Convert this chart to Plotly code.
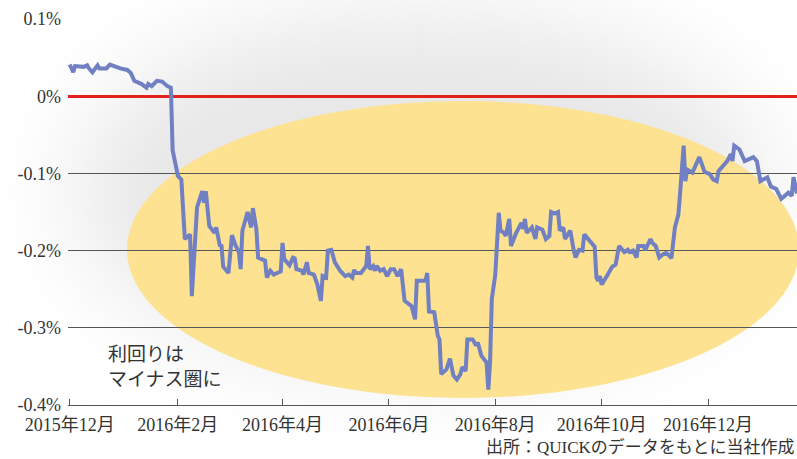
import base64
import plotly.graph_objects as go

# ---------------- data ----------------
dates = [
    "2015-12-01", "2015-12-03", "2015-12-04", "2015-12-09", "2015-12-11", "2015-12-12", "2015-12-14",
    "2015-12-17", "2015-12-18", "2015-12-22", "2015-12-24", "2015-12-27", "2015-12-30",
    "2016-01-03", "2016-01-05", "2016-01-07", "2016-01-11", "2016-01-14", "2016-01-15", "2016-01-17",
    "2016-01-20", "2016-01-23", "2016-01-26", "2016-01-28", "2016-01-29",
    "2016-02-01", "2016-02-02", "2016-02-03", "2016-02-05", "2016-02-08", "2016-02-09", "2016-02-12",
    "2016-02-15", "2016-02-16", "2016-02-17", "2016-02-19", "2016-02-22", "2016-02-23", "2016-02-25",
    "2016-02-26", "2016-02-27",
    "2016-03-01", "2016-03-03", "2016-03-05", "2016-03-07", "2016-03-08", "2016-03-09", "2016-03-12",
    "2016-03-14", "2016-03-15", "2016-03-17", "2016-03-18", "2016-03-22", "2016-03-23", "2016-03-25",
    "2016-03-27", "2016-03-29", "2016-03-31",
    "2016-04-01", "2016-04-02", "2016-04-05", "2016-04-07", "2016-04-08", "2016-04-09", "2016-04-12",
    "2016-04-13", "2016-04-15", "2016-04-16", "2016-04-19", "2016-04-21", "2016-04-23", "2016-04-24",
    "2016-04-26", "2016-04-27", "2016-04-29",
    "2016-05-01", "2016-05-04", "2016-05-07", "2016-05-09", "2016-05-11", "2016-05-12", "2016-05-13",
    "2016-05-16", "2016-05-19", "2016-05-20", "2016-05-21", "2016-05-23", "2016-05-24", "2016-05-25",
    "2016-05-27", "2016-05-29", "2016-05-31",
    "2016-06-02", "2016-06-04", "2016-06-06", "2016-06-08", "2016-06-10", "2016-06-14", "2016-06-16",
    "2016-06-17", "2016-06-22", "2016-06-23", "2016-06-24", "2016-06-27", "2016-06-29", "2016-06-30",
    "2016-07-01", "2016-07-04", "2016-07-06", "2016-07-08", "2016-07-10", "2016-07-12", "2016-07-13",
    "2016-07-15", "2016-07-16", "2016-07-19", "2016-07-21", "2016-07-22", "2016-07-24", "2016-07-27",
    "2016-07-28", "2016-07-29", "2016-07-30",
    "2016-08-01", "2016-08-03", "2016-08-04", "2016-08-06", "2016-08-07", "2016-08-09", "2016-08-10",
    "2016-08-13", "2016-08-16", "2016-08-17", "2016-08-18", "2016-08-19", "2016-08-22", "2016-08-24",
    "2016-08-25", "2016-08-28", "2016-08-30",
    "2016-09-01", "2016-09-02", "2016-09-04", "2016-09-06", "2016-09-07", "2016-09-09", "2016-09-10",
    "2016-09-13", "2016-09-15", "2016-09-16", "2016-09-18", "2016-09-20", "2016-09-21", "2016-09-24",
    "2016-09-27", "2016-09-28", "2016-09-29", "2016-09-30",
    "2016-10-01", "2016-10-04", "2016-10-06", "2016-10-07", "2016-10-09", "2016-10-11", "2016-10-14",
    "2016-10-16", "2016-10-17", "2016-10-19", "2016-10-21", "2016-10-22", "2016-10-25", "2016-10-26",
    "2016-10-29", "2016-10-30",
    "2016-11-01", "2016-11-03", "2016-11-05", "2016-11-07", "2016-11-09", "2016-11-10", "2016-11-12",
    "2016-11-14", "2016-11-15", "2016-11-17", "2016-11-18", "2016-11-19", "2016-11-22", "2016-11-26",
    "2016-11-29",
    "2016-12-02", "2016-12-04", "2016-12-06", "2016-12-07", "2016-12-10", "2016-12-12", "2016-12-14",
    "2016-12-15", "2016-12-16", "2016-12-19", "2016-12-22", "2016-12-27", "2016-12-29", "2016-12-31",
    "2017-01-04", "2017-01-06", "2017-01-09", "2017-01-10", "2017-01-12", "2017-01-16", "2017-01-18",
    "2017-01-19", "2017-01-21",
]

yields = [
    # 2015-12
    0.041, 0.031, 0.039, 0.038, 0.040, 0.036, 0.031, 0.040, 0.036, 0.036, 0.041, 0.038, 0.036,
    # 2016-01
    0.034, 0.030, 0.020, 0.016, 0.011, 0.016, 0.013, 0.020, 0.019, 0.013, 0.011, -0.070,
    # 2016-02
    -0.103, -0.105, -0.108, -0.185, -0.179, -0.259, -0.144, -0.123, -0.138, -0.123, -0.168, -0.177,
    -0.170, -0.193, -0.194, -0.221,
    # 2016-03
    -0.229, -0.180, -0.193, -0.202, -0.224, -0.174, -0.150, -0.170, -0.145, -0.172, -0.209, -0.213,
    -0.235, -0.226, -0.231, -0.229, -0.227,
    # 2016-04
    -0.190, -0.211, -0.219, -0.209, -0.210, -0.224, -0.226, -0.231, -0.215, -0.229, -0.231, -0.244,
    -0.265, -0.233, -0.235, -0.200, -0.199,
    # 2016-05
    -0.215, -0.226, -0.233, -0.231, -0.235, -0.225, -0.229, -0.229, -0.220, -0.194, -0.224, -0.220,
    -0.226, -0.220, -0.226, -0.224, -0.233,
    # 2016-06
    -0.224, -0.224, -0.233, -0.224, -0.265, -0.272, -0.289, -0.239, -0.239, -0.229, -0.279, -0.280,
    -0.310, -0.315,
    # 2016-07
    -0.360, -0.354, -0.340, -0.362, -0.367, -0.360, -0.351, -0.356, -0.315, -0.315, -0.323, -0.319,
    -0.336, -0.345, -0.380, -0.345, -0.263,
    # 2016-08
    -0.231, -0.151, -0.174, -0.177, -0.181, -0.159, -0.194, -0.177, -0.164, -0.172, -0.159, -0.177,
    -0.170, -0.185, -0.170, -0.173, -0.185,
    # 2016-09
    -0.181, -0.150, -0.152, -0.150, -0.174, -0.170, -0.185, -0.174, -0.200, -0.209, -0.199, -0.200,
    -0.179, -0.187, -0.195, -0.235, -0.239, -0.233,
    # 2016-10
    -0.244, -0.233, -0.226, -0.221, -0.218, -0.194, -0.202, -0.199, -0.202, -0.200, -0.209, -0.194,
    -0.194, -0.199, -0.185, -0.190,
    # 2016-11
    -0.194, -0.209, -0.205, -0.203, -0.207, -0.210, -0.170, -0.153, -0.125, -0.064, -0.110, -0.095,
    -0.099, -0.079, -0.098,
    # 2016-12
    -0.101, -0.108, -0.110, -0.097, -0.090, -0.084, -0.075, -0.084, -0.064, -0.069, -0.084, -0.079,
    -0.084, -0.110,
    # 2017-01
    -0.105, -0.117, -0.120, -0.125, -0.133, -0.125, -0.129, -0.105, -0.126,
]
assert len(dates) == len(yields)

x_tick_vals = ["2015-12-01", "2016-02-01", "2016-04-01", "2016-06-01",
               "2016-08-01", "2016-10-01", "2016-12-01"]
x_tick_text = ["2015年12月", "2016年2月", "2016年4月", "2016年6月",
               "2016年8月", "2016年10月", "2016年12月"]
y_tick_vals = [0.1, 0.0, -0.1, -0.2, -0.3, -0.4]
y_tick_text = ["0.1%", "0%", "-0.1%", "-0.2%", "-0.3%", "-0.4%"]

note_text = "利回りは<br>マイナス圏に"
source_text = "出所：QUICKのデータをもとに当社作成"

# ---------------- layout geometry ----------------
W, H = 797, 459
ML, MR, MT, MB = 68, 0, 19, 54
PW, PH = W - ML - MR, H - MT - MB


def px_x(p):
    return (p - ML) / PW


def px_y(p):
    return (H - MB - p) / PH


SERIF = "Liberation Serif, 'Noto Sans CJK JP', serif"
CJK = "'Noto Sans CJK JP', sans-serif"

# soft grey shadow behind the highlight ellipse (decorative background)
svg = f"""<svg xmlns="http://www.w3.org/2000/svg" width="{W}" height="{H}" viewBox="0 0 {W} {H}">
<defs><filter id="b" x="-60%" y="-60%" width="220%" height="220%">
<feGaussianBlur stdDeviation="48"/></filter></defs>
<ellipse cx="420" cy="190" rx="345" ry="178" fill="#e7e7e7" filter="url(#b)"/>
</svg>"""
svg_uri = "data:image/svg+xml;base64," + base64.b64encode(svg.encode()).decode()

fig = go.Figure()
fig.add_trace(go.Scatter(
    x=dates, y=yields, mode="lines",
    line=dict(color="#7080c2", width=4),
    hoverinfo="skip", showlegend=False,
))

fig.update_layout(
    width=W, height=H,
    margin=dict(l=ML, r=MR, t=MT, b=MB, pad=0),
    paper_bgcolor="white",
    plot_bgcolor="rgba(0,0,0,0)",
    showlegend=False,
    xaxis=dict(
        type="date",
        range=["2015-11-30", "2017-01-21"],
        tickvals=x_tick_vals, ticktext=x_tick_text,
        ticks="inside", ticklen=6, tickwidth=1, tickcolor="#555",
        showline=True, linecolor="#555", linewidth=1,
        showgrid=False, zeroline=False,
        tickfont=dict(family=SERIF, size=18, color="#333"),
        ticklabelstandoff=3,
    ),
    yaxis=dict(
        range=[-0.4, 0.1],
        tickvals=y_tick_vals, ticktext=y_tick_text,
        ticks="", showline=False,
        showgrid=True, gridcolor="#555", gridwidth=1,
        zeroline=True, zerolinecolor="#e3211c", zerolinewidth=3,
        tickfont=dict(family=SERIF, size=18, color="#333"),
        ticklabelstandoff=6,
    ),
    images=[dict(
        source=svg_uri, xref="paper", yref="paper",
        x=px_x(0), y=px_y(0), sizex=W / PW, sizey=H / PH,
        xanchor="left", yanchor="top", sizing="stretch", layer="below",
    )],
    shapes=[dict(
        type="circle", xref="paper", yref="paper",
        x0=px_x(127), x1=px_x(799), y0=px_y(398), y1=px_y(101),
        fillcolor="#fde292", line=dict(width=0), layer="below",
    )],
    annotations=[
        dict(text=note_text, xref="paper", yref="paper",
             x=px_x(106), y=px_y(365), xanchor="left", yanchor="middle",
             align="left", showarrow=False,
             font=dict(family=CJK, size=19, color="#333")),
        dict(text=source_text, xref="paper", yref="paper",
             x=1, y=px_y(447), xanchor="right", yanchor="middle",
             showarrow=False,
             font=dict(family=SERIF, size=17, color="#333")),
    ],
)

fig.write_html(
    "out.html",
    config={"displayModeBar": False, "staticPlot": True},
    post_script="document.body.style.margin='0';document.body.style.padding='0';",
)
